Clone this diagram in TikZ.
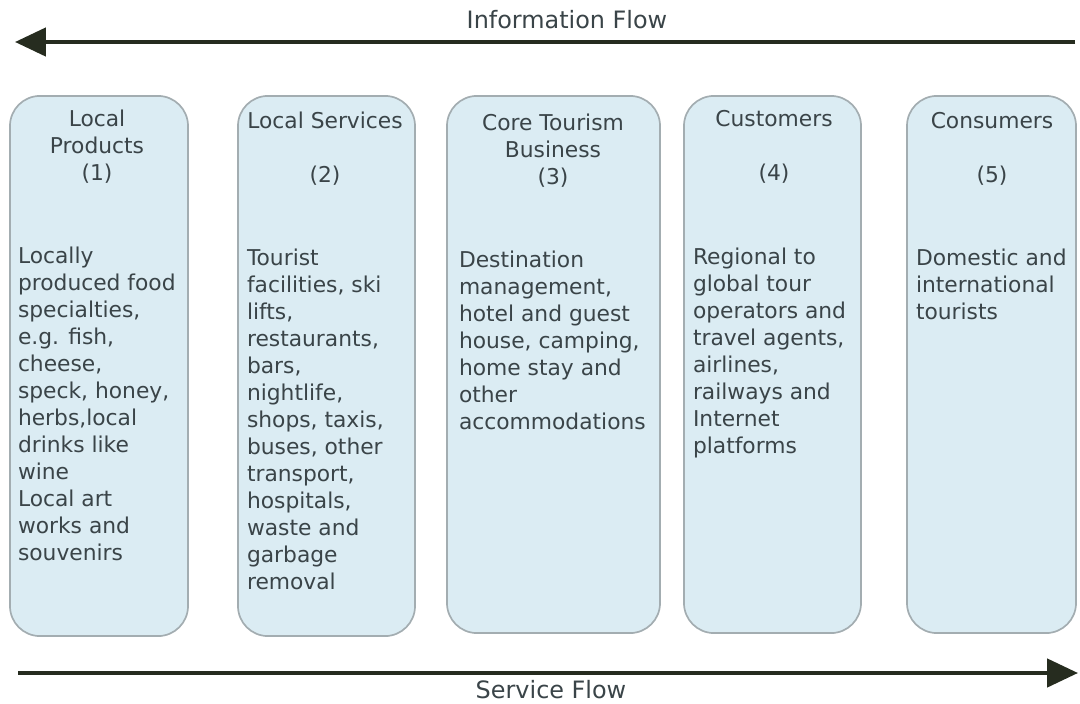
\documentclass[tikz,border=0pt]{standalone}
\usepackage{fontspec}
\setmainfont{DejaVu Sans}
\usetikzlibrary{arrows.meta}

\definecolor{boxfill}{HTML}{DBECF3}
\definecolor{boxline}{HTML}{A3ADB1}
\definecolor{txt}{HTML}{3A4448}
\definecolor{flow}{HTML}{262C1F}

\begin{document}
\begin{tikzpicture}[x=0.025cm,y=-0.025cm,
  every node/.style={outer sep=0pt, text=txt, font=\fontsize{15.5}{19.2}\selectfont},
  stage/.style={draw=boxline, line width=1.2pt, fill=boxfill, rounded corners=0.75cm},
  head/.style={align=center, inner sep=0pt},
  body/.style={align=left, anchor=north west, inner sep=0pt},
  flowlabel/.style={font=\fontsize{17}{20}\selectfont},
  flowline/.style={draw=flow, line width=3pt, -{Triangle[length=22pt,width=20pt]}}]

\useasboundingbox (0,0) rectangle (1080,704);

% flows
\coordinate (infostart) at (1075,42);
\coordinate (infoend) at (15,42);
\draw[flowline] (infostart) -- (infoend);
\node[flowlabel] (infolabel) at (567,20) {Information Flow};

\coordinate (servstart) at (18,673);
\coordinate (servend) at (1078,673);
\draw[flowline] (servstart) -- (servend);
\node[flowlabel] (servlabel) at (551,690) {Service Flow};

% boxes
\node[stage, minimum width=4.45cm, minimum height=13.5cm] (prod) at (99,366) {};
\node[stage, minimum width=4.425cm, minimum height=13.5cm] (serv) at (326.5,366) {};
\node[stage, minimum width=5.325cm, minimum height=13.425cm] (core) at (553.5,364.5) {};
\node[stage, minimum width=4.425cm, minimum height=13.425cm] (cust) at (772.5,364.5) {};
\node[stage, minimum width=4.225cm, minimum height=13.425cm] (cons) at (991.5,364.5) {};

% headings
\node[head] (prodhead) at (97,147) {Local\\Products\\(1)};
\node[head] (servhead) at (325,149) {Local Services\\[19.2pt](2)};
\node[head] (corehead) at (553,151) {Core Tourism\\Business\\(3)};
\node[head] (custhead) at (774,147) {Customers\\[19.2pt](4)};
\node[head] (conshead) at (992,149) {Consumers\\[19.2pt](5)};

% contents
\node[body] (prodtext) at (18,247) {Locally\\produced food\\specialties,\\e.g. fish,\\cheese,\\speck, honey,\\herbs,local\\drinks like\\wine\\Local art\\works and\\souvenirs};
\node[body] (servtext) at (247,249) {Tourist\\facilities, ski\\lifts,\\restaurants,\\bars,\\nightlife,\\shops, taxis,\\buses, other\\transport,\\hospitals,\\waste and\\garbage\\removal};
\node[body] (coretext) at (459,251) {Destination\\management,\\hotel and guest\\house, camping,\\home stay and\\other\\accommodations};
\node[body] (custtext) at (693,248) {Regional to\\global tour\\operators and\\travel agents,\\airlines,\\railways and\\Internet\\platforms};
\node[body] (constext) at (916,249) {Domestic and\\international\\tourists};
\end{tikzpicture}
\end{document}
